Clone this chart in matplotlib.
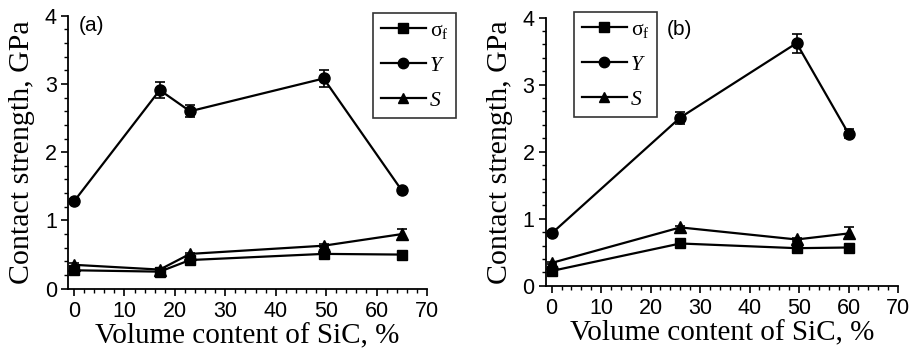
import matplotlib
matplotlib.use("Agg")
import matplotlib.pyplot as plt
from matplotlib.ticker import MultipleLocator
from matplotlib.lines import Line2D

# panel (a)
x_a = [0, 17, 23, 49.5, 65]
sigma_a = [0.27, 0.25, 0.42, 0.51, 0.50]
y_a = [1.28, 2.91, 2.60, 3.08, 1.44]
y_err_a = [0.03, 0.12, 0.09, 0.12, 0.03]
s_a = [0.35, 0.28, 0.51, 0.63, 0.80]
s_err_a = [0.02, 0.03, 0.02, 0.02, 0.08]

# panel (b)
x_b = [0, 26, 49.5, 60]
sigma_b = [0.22, 0.63, 0.56, 0.57]
y_b = [0.78, 2.51, 3.62, 2.27]
y_err_b = [0.04, 0.09, 0.14, 0.07]
s_b = [0.34, 0.87, 0.69, 0.78]
s_err_b = [0.02, 0.02, 0.02, 0.09]

labels = ["σ$_\\mathrm{f}$", "Y", "S"]
markers = ["s", "o", "^"]

SERIF = "Liberation Serif"
SANS = "Liberation Sans"
plt.rcParams["mathtext.fontset"] = "custom"
plt.rcParams["mathtext.rm"] = SERIF
plt.rcParams["mathtext.it"] = SERIF + ":italic"

fig = plt.figure(figsize=(9.1, 3.54), dpi=100)
W, H = 910, 354


def make_axes(left, right, top, bottom):
    return fig.add_axes([left / W, 1 - bottom / H, (right - left) / W, (bottom - top) / H])


def draw(ax, x, sigma, y, yerr, s, serr, tag, tag_pos, leg_bbox):
    kw = dict(color="black", lw=1.6, capsize=3.5, elinewidth=1.2, capthick=1.2, ms=7)
    ax.errorbar(x, sigma, yerr=0.02, marker="s", **kw)
    ax.errorbar(x, y, yerr=yerr, marker="o", **dict(kw, ms=8))
    ax.errorbar(x, s, yerr=serr, marker="^", **dict(kw, ms=8))
    ax.set_xlim(-1.2, 70)
    ax.set_ylim(0, 4)
    ax.xaxis.set_major_locator(MultipleLocator(10))
    ax.xaxis.set_minor_locator(MultipleLocator(2))
    ax.yaxis.set_major_locator(MultipleLocator(1))
    ax.yaxis.set_minor_locator(MultipleLocator(0.2))
    for side in ("top", "right"):
        ax.spines[side].set_visible(False)
    for side in ("left", "bottom"):
        ax.spines[side].set_linewidth(1.3)
    ax.tick_params(which="major", direction="out", length=5, width=1.2,
                   labelsize=15.5, pad=3)
    ax.tick_params(axis="x", which="major", pad=4)
    ax.tick_params(which="minor", direction="out", length=3, width=1.0)
    for lab in ax.get_xticklabels() + ax.get_yticklabels():
        lab.set_family(SANS)
    ax.set_xlabel("Volume content of SiC, %", family=SERIF, fontsize=21, labelpad=1)
    ax.set_ylabel("Contact strength, GPa", family=SERIF, fontsize=21.5, labelpad=7)
    ax.text(*tag_pos, tag, transform=ax.transAxes, family=SANS, fontsize=15,
            ha="left", va="top")
    handles = [Line2D([], [], color="black", lw=1.6, marker=m, ms=7.5) for m in markers]
    leg = ax.legend(handles, labels, loc="upper left", bbox_to_anchor=leg_bbox,
                    bbox_transform=fig.transFigure, frameon=True, fancybox=False,
                    edgecolor="black", handlelength=2.1, handletextpad=0.2,
                    labelspacing=0.7, borderpad=0.35, borderaxespad=0,
                    prop={"family": SERIF, "size": 15.5, "style": "italic"})
    leg.get_texts()[0].set_style("normal")
    leg.get_frame().set_linewidth(1.2)
    return ax


ax_a = make_axes(68, 427, 15.7, 288.7)
draw(ax_a, x_a, sigma_a, y_a, y_err_a, s_a, s_err_a, "(a)", (0.03, 1.0),
     (373 / W, 1 - 13 / H))

ax_b = make_axes(545.7, 898, 17.7, 285.7)
draw(ax_b, x_b, sigma_b, y_b, y_err_b, s_b, s_err_b, "(b)", (0.345, 0.99),
     (574 / W, 1 - 12 / H))

fig.savefig("out.png", dpi=100, facecolor="white")
